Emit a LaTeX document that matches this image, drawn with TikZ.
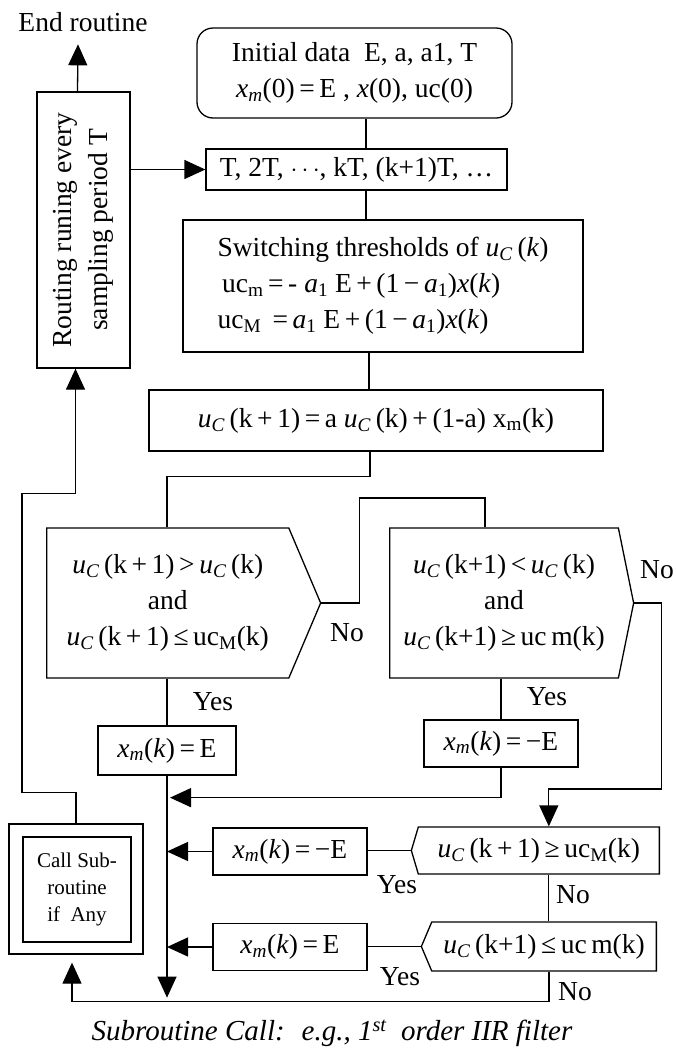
\documentclass[tikz,border=0pt]{standalone}
\usepackage{fontspec}
\setmainfont{Liberation Serif}
\usetikzlibrary{arrows.meta,shapes.symbols}

\newcommand{\ucC}{\textit{u}\textsubscript{\textit{C}}}
\newcommand{\xmv}{\textit{x}\textsubscript{\textit{m}}}
\newcommand{\op}[1]{\,#1\,}

\begin{document}
\begin{tikzpicture}[x=1pt, y=1pt, line width=1.3pt, >={Triangle[length=21pt,width=19pt]},
    font=\fontsize{27.5}{36}\selectfont,
    box/.style={draw, rectangle, inner sep=0pt, align=center},
    cond/.style={draw, signal, signal to=#1, inner sep=0pt, align=center},
    lbl/.style={inner sep=0pt}]

    \useasboundingbox (0,0) rectangle (676,-1058);

    %========================
    % Main chain
    %========================
    \node[box, rounded corners=16pt, minimum width=315pt, minimum height=90pt] (init) at (354.5,-73)
        {Initial data \ E, a, a1, T\\ \xmv(0)\op{=}E ,\ \textit{x}(0), uc(0)};
    \node[box, minimum width=301pt, minimum height=41pt] (tbox) at (356.5,-169.5)
        {T, 2T, $\cdots$, kT, (k+1)T, \ldots};
    \node[box, minimum width=400pt, minimum height=132pt, align=left] (thr) at (383,-286)
        {Switching thresholds of \ucC\,(\textit{k})\\
         \,uc\textsubscript{m}\op{=}- \textit{a}\textsubscript{1} E\op{+}(1\op{−}\textit{a}\textsubscript{1})\textit{x}(\textit{k})\\
         uc\textsubscript{M} \op{=}\textit{a}\textsubscript{1} E\op{+}(1\op{−}\textit{a}\textsubscript{1})\textit{x}(\textit{k})};
    \node[box, minimum width=454pt, minimum height=61pt] (upd) at (376,-420.5)
        {\ucC\,(k\op{+}1)\op{=}a \ucC\,(k)\op{+}(1-a) x\textsubscript{m}(k)};

    % Spine
    \coordinate (spine) at (366,0);
    \draw (init.south -| spine) -- (tbox.north -| spine);
    \draw (tbox.south -| spine) -- (thr.north -| spine);
    \draw ([xshift=3pt]thr.south -| spine) -- ([xshift=3pt]upd.north -| spine);

    %========================
    % Routing loop (left)
    %========================
    \node[box, minimum width=93pt, minimum height=276pt] (rout) at (83.5,-230) {};
    \node[rotate=90, align=center] at (rout) {Routing runing every\\sampling period T};
    \node[lbl] (endr) at (83,-22) {End routine};
    \draw[->] ([xshift=-6pt]rout.north) -- ([xshift=-5pt,yshift=-12pt]endr.south);
    \draw[->] (rout.east |- tbox.west) -- (tbox.west);

    %========================
    % Decisions
    %========================
    \node[cond=east, anchor=west, signal pointer angle=134, minimum width=274pt, minimum height=150pt] (c1) at (46,-603)
        {\ucC\,(k\op{+}1)\op{>}\ucC\,(k)\\and\\\ucC\,(k\op{+}1)\op{≤}uc\textsubscript{M}(k)};
    \node[cond=east, anchor=west, signal pointer angle=157, minimum width=244pt, minimum height=150pt] (c2) at (389,-603)
        {\ucC\,(k+1)\op{<}\ucC\,(k)\\and\\\ucC\,(k+1)\op{≥}uc\,m(k)};
    \node[cond=west, anchor=east, signal pointer angle=147, minimum width=248pt, minimum height=47pt] (c3) at (660,-850.5)
        {\ucC\,(k\op{+}1)\op{≥}uc\textsubscript{M}(k)};
    \node[cond=west, anchor=east, signal pointer angle=134, minimum width=235pt, minimum height=49pt] (c4) at (657,-946.5)
        {\ucC\,(k+1)\op{≤}uc\,m(k)};

    % Actions
    \node[box, minimum width=138pt, minimum height=49pt] (pos1) at (167,-750.5) {\xmv(\textit{k})\op{=}E};
    \node[box, minimum width=154pt, minimum height=47pt] (neg2) at (501,-743.5) {\xmv(\textit{k})\op{=}−E};
    \node[box, minimum width=154pt, minimum height=47pt] (neg3) at (290,-851.5) {\xmv(\textit{k})\op{=}−E};
    \node[box, minimum width=154pt, minimum height=47pt] (pos4) at (290,-947) {\xmv(\textit{k})\op{=}E};

    % Call subroutine
    \node[box, minimum width=134pt, minimum height=130pt] (call) at (76,-889) {};
    \node[box, minimum width=108pt, minimum height=105pt, font=\fontsize{21}{27}\selectfont] (callin) at (77,-889.5)
        {Call Sub-\\routine\\if \ Any};

    %========================
    % Connectors
    %========================
    \draw ([xshift=4pt]upd.south -| spine) -- ++(0,-25) -| (c1.north -| pos1.north);
    \draw (c1.east) -- ++(38,0) -- ++(0,105) -| ([xshift=-19pt]c2.north);
    \draw (c1.south -| pos1.north) -- (pos1.north);
    \draw (c2.south -| neg2.north) -- (neg2.north);
    \draw[->] (c2.east) -| ++(27,-186) -| ([xshift=10pt]c3.north);
    \draw[->] (pos1.south) -- ++(0,-222);
    \draw[->] (neg2.south) |- ([xshift=3pt,yshift=-22pt]pos1.south);
    \draw (c3.west) -- (c3.west -| neg3.east);
    \draw[->] (neg3.west) -- (neg3.west -| pos1.south);
    \draw ([xshift=10pt]c3.south) -- ([xshift=10pt]c3.south |- c4.north);
    \draw (c4.west) -- (c4.west -| pos4.east);
    \draw[->] (pos4.west) -- (pos4.west -| pos1.south);
    \draw[->] ([xshift=5pt]c4.south) -- ++(0,-30) -| ([xshift=-4pt,yshift=-8pt]call.south);
    \draw[->] (call.north) -- ++(0,31) -- ++(-54,0) -- ++(0,299) -| ([xshift=-8pt]rout.south);

    % Labels
    \node[lbl] (no1) at (347,-633) {No};
    \node[lbl] (no2) at (657,-570) {No};
    \node[lbl] (yes1) at (213,-702) {Yes};
    \node[lbl] (yes2) at (547,-697) {Yes};
    \node[lbl] (yes3) at (397,-885) {Yes};
    \node[lbl] (no3) at (573,-895) {No};
    \node[lbl] (yes4) at (400,-977) {Yes};
    \node[lbl] (no4) at (575,-992) {No};

    % Caption
    \node[lbl, font=\fontsize{29}{34}\selectfont\itshape] (capt) at (332,-1033)
        {Subroutine Call: \ e.g., 1\textsuperscript{st} \ order IIR filter};

\end{tikzpicture}
\end{document}
